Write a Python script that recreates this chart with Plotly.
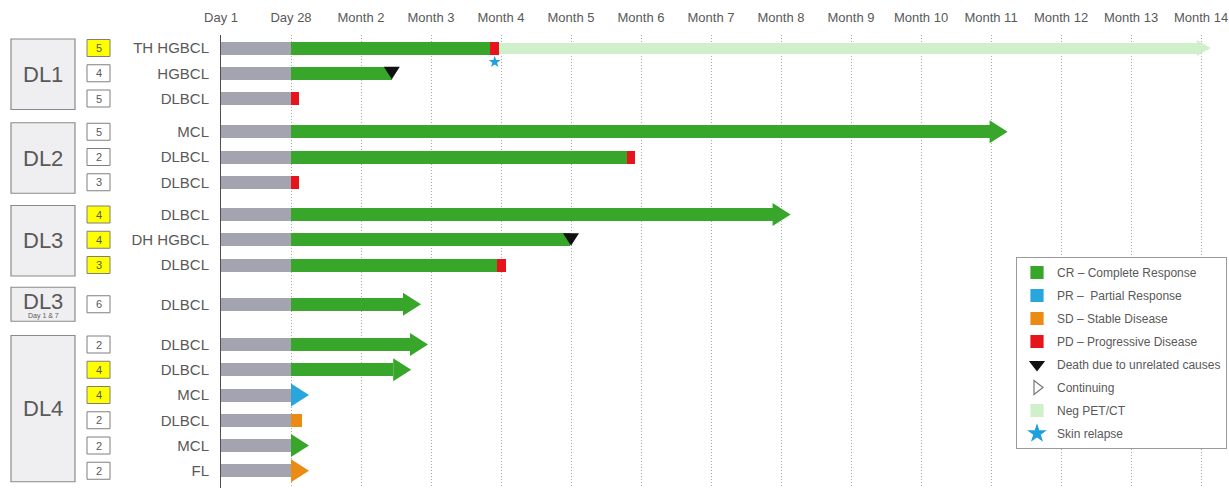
import plotly.graph_objects as go

# ---------------- data ----------------
tick_labels = ["Day 1", "Day 28", "Month 2", "Month 3", "Month 4", "Month 5", "Month 6",
               "Month 7", "Month 8", "Month 9", "Month 10", "Month 11", "Month 12",
               "Month 13", "Month 14"]
tick_values = [0, 1, 2, 3, 4, 5, 6, 7, 8, 9, 10, 11, 12, 13, 14]

dose_levels = ["DL1", "DL2", "DL3", "DL3", "DL4"]
dose_subtitles = ["", "", "", "Day 1 & 7", ""]
group_sizes = [3, 3, 3, 1, 6]

histology = ["TH HGBCL", "HGBCL", "DLBCL", "MCL", "DLBCL", "DLBCL", "DLBCL", "DH HGBCL",
             "DLBCL", "DLBCL", "DLBCL", "DLBCL", "MCL", "DLBCL", "MCL", "FL"]
prior_lines = [5, 4, 5, 5, 2, 3, 4, 4, 3, 6, 2, 4, 4, 2, 2, 2]
highlighted = [1, 0, 0, 0, 0, 0, 1, 1, 1, 0, 0, 1, 1, 0, 0, 0]

treatment_start = [0] * 16
treatment_end = [1] * 16

response = ["CR", "CR", "PD", "CR", "CR", "PD", "CR", "CR", "CR", "CR", "CR", "CR",
            "PR", "SD", "CR", "SD"]
response_end = [3.84, 2.44, 1.12, 10.98, 5.80, 1.11, 7.88, 4.99, 3.94, 2.60, 2.70, 2.46,
                1.0, 1.16, 1.0, 1.0]
progression_end = [3.97, None, None, None, 5.92, None, None, None, 4.07, None, None, None,
                   None, None, None, None]
continuing = [0, 0, 0, 1, 0, 0, 1, 0, 0, 1, 1, 1, 1, 0, 1, 1]
death_month = [None, 2.44, None, None, None, None, None, 5.0, None, None, None, None,
               None, None, None, None]
neg_pet_end = [13.94, None, None, None, None, None, None, None, None, None, None, None,
               None, None, None, None]
skin_relapse_month = [3.91, None, None, None, None, None, None, None, None, None, None,
                      None, None, None, None, None]

# ---------------- styles / layout ----------------
W, H = 1229, 488
LM, TM = 221, 35
PX = 70.0  # pixels per x unit
TXT = "#595959"
FONT = "Liberation Sans, Arial, sans-serif"
COLORS = {"CR": "#38a62a", "PR": "#2aa6df", "SD": "#ec8b14", "PD": "#e8141b",
          "TRT": "#a4a4b0", "NEG": "#cff0cb"}
BAR_H = 13
HEAD_H = 23
HEAD_L = 18 / PX

# row positions (in pixel-like y units)
gaps = [0, 8, 7, 14, 15]
row_y = []
pos = 48.0
for g, n in enumerate(group_sizes):
    pos += gaps[g]
    for _ in range(n):
        row_y.append(pos)
        pos += 25.25

fig = go.Figure()

def add_bar(ys, starts, ends, color, width):
    fig.add_trace(go.Bar(orientation="h", y=ys, base=starts,
                         x=[e - s for s, e in zip(starts, ends)], width=width,
                         marker=dict(color=color, line=dict(width=0)),
                         showlegend=False, hoverinfo="skip"))

# treatment period (Day 1 - Day 28)
add_bar(row_y, treatment_start, treatment_end, COLORS["TRT"], BAR_H)

# response segments
for st in ["CR", "PR", "SD", "PD"]:
    ys, s0, s1 = [], [], []
    for i, r in enumerate(response):
        if r == st and response_end[i] > treatment_end[i]:
            ys.append(row_y[i]); s0.append(treatment_end[i]); s1.append(response_end[i])
    if st == "PD":
        for i, p in enumerate(progression_end):
            if p is not None:
                ys.append(row_y[i]); s0.append(response_end[i]); s1.append(p)
    if ys:
        add_bar(ys, s0, s1, COLORS[st], BAR_H)

# negative PET/CT
ys, s0, s1 = [], [], []
for i, e in enumerate(neg_pet_end):
    if e is not None:
        ys.append(row_y[i]); s0.append(progression_end[i] or response_end[i]); s1.append(e)
add_bar(ys, s0, s1, COLORS["NEG"], 11)

# arrow heads
def polygons(color, polys):
    xs, yy = [], []
    for p in polys:
        for (a, b) in p:
            xs.append(a); yy.append(b)
        xs.append(p[0][0]); yy.append(p[0][1])
        xs.append(None); yy.append(None)
    fig.add_trace(go.Scatter(x=xs, y=yy, mode="lines", fill="toself", fillcolor=color,
                             line=dict(width=0, color=color), showlegend=False,
                             hoverinfo="skip"))

for st in ["CR", "PR", "SD"]:
    polys = []
    for i, r in enumerate(response):
        if r == st and continuing[i]:
            e, y = response_end[i], row_y[i]
            polys.append([(e, y - HEAD_H / 2), (e + HEAD_L, y), (e, y + HEAD_H / 2)])
    if polys:
        polygons(COLORS[st], polys)

polys = []
for i, e in enumerate(neg_pet_end):
    if e is not None:
        y = row_y[i]
        polys.append([(e, y - 8), (e + 14 / PX, y), (e, y + 8)])
polygons(COLORS["NEG"], polys)

# deaths
polys = []
for i, d in enumerate(death_month):
    if d is not None:
        y = row_y[i]
        polys.append([(d - 8 / PX, y - 6.5), (d + 8 / PX, y - 6.5), (d, y + 6)])
polygons("#111111", polys)

# skin relapse
sx = [s for s in skin_relapse_month if s is not None]
sy = [row_y[i] + 14 for i, s in enumerate(skin_relapse_month) if s is not None]
fig.add_trace(go.Scatter(x=sx, y=sy, mode="markers", showlegend=False, hoverinfo="skip",
                         marker=dict(symbol="star", size=9, color="#1e9fe0")))

# legend entries
legend_items = [
    ("CR \u2013 Complete Response", "square", COLORS["CR"]),
    ("PR \u2013  Partial Response", "square", COLORS["PR"]),
    ("SD \u2013 Stable Disease", "square", COLORS["SD"]),
    ("PD \u2013 Progressive Disease", "square", COLORS["PD"]),
    ("Death due to unrelated causes", "triangle-down", "#111111"),
    ("Continuing", "triangle-right-open", "#777777"),
    ("Neg PET/CT", "square", COLORS["NEG"]),
    ("Skin relapse", "star", "#1e9fe0"),
]
for k, (name, sym, col) in enumerate(legend_items):
    fig.add_trace(go.Scatter(x=[None], y=[None], mode="markers", name=name,
                             legendgroup=f"g{k}",
                             marker=dict(symbol=sym, size=12, color=col,
                                         line=dict(width=1.2, color=col))))

# ---------------- left-hand boxes ----------------
def px2paper(px):
    return (px - LM) / (W - LM)

shapes, annotations = [], []
start = 0
for g, n in enumerate(group_sizes):
    first, last = row_y[start], row_y[start + n - 1]
    if n == 1:
        top, bot = first - 17, first + 17
    else:
        top, bot = first - 9, last + 11
    shapes.append(dict(type="rect", xref="paper", yref="y", x0=px2paper(11),
                       x1=px2paper(75), y0=top, y1=bot, fillcolor="#efeff1",
                       line=dict(color="#8a8a8a", width=1.2), layer="above"))
    cy = (top + bot) / 2
    if dose_subtitles[g]:
        annotations.append(dict(x=px2paper(43), y=cy - 3, xref="paper", yref="y",
                                xanchor="center", yanchor="middle",
                                text=dose_levels[g], showarrow=False,
                                font=dict(size=22, color=TXT, family=FONT)))
        annotations.append(dict(x=px2paper(43), y=bot - 5, xref="paper", yref="y",
                                xanchor="center", yanchor="middle",
                                text=dose_subtitles[g], showarrow=False,
                                font=dict(size=7, color=TXT, family=FONT)))
    else:
        annotations.append(dict(x=px2paper(43), y=cy, xref="paper", yref="y",
                                xanchor="center", yanchor="middle",
                                text=dose_levels[g], showarrow=False,
                                font=dict(size=22, color=TXT, family=FONT)))
    start += n

for i, y in enumerate(row_y):
    shapes.append(dict(type="rect", xref="paper", yref="y", x0=px2paper(87),
                       x1=px2paper(110), y0=y - 8.5, y1=y + 8.5,
                       fillcolor="#ffff00" if highlighted[i] else "#ffffff",
                       line=dict(color="#7f7f7f", width=1), layer="above"))
    annotations.append(dict(x=px2paper(98.5), y=y, xref="paper", yref="y",
                            xanchor="center", yanchor="middle",
                            text=str(prior_lines[i]), showarrow=False,
                            font=dict(size=11, color=TXT, family=FONT)))

fig.update_layout(
    width=W, height=H,
    margin=dict(l=LM, r=0, t=TM, b=0, autoexpand=False),
    plot_bgcolor="white", paper_bgcolor="white",
    barmode="overlay", bargap=0,
    font=dict(family=FONT, color=TXT),
    shapes=shapes, annotations=annotations,
    showlegend=True,
    legend=dict(x=px2paper(1016), y=(H - 257) / (H - TM), xanchor="left", yanchor="top",
                bgcolor="white", bordercolor="#9a9a9a", borderwidth=1,
                font=dict(size=12, color=TXT, family=FONT), tracegroupgap=4,
                traceorder="grouped"),
    xaxis=dict(range=[0, (W - LM) / PX], side="top", tickvals=tick_values,
               ticktext=tick_labels, showgrid=True, gridcolor="#a8a8a8",
               griddash="1px,2px", gridwidth=1, zeroline=False, showline=False, ticks="",
               tickfont=dict(size=13, color=TXT, family=FONT), ticklabelstandoff=9,
               ticklabeloverflow="allow", automargin=False, fixedrange=True),
    yaxis=dict(range=[H, TM], tickvals=row_y, ticktext=histology, showgrid=False,
               zeroline=False, showline=True, linecolor="#505050", linewidth=1,
               ticks="", ticklabelstandoff=8, automargin=False,
               tickfont=dict(size=15, color=TXT, family=FONT), fixedrange=True),
)

fig.write_html("out.html", config={"displayModeBar": False},
               post_script="document.body.style.margin='0';")
